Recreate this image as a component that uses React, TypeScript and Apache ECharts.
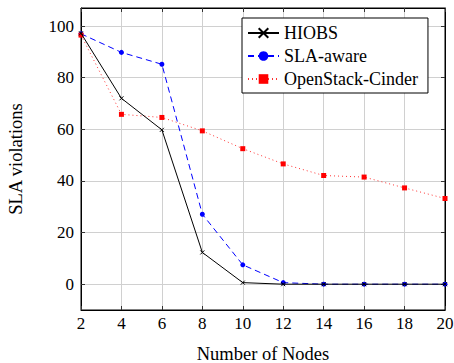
import React, { useEffect, useRef } from "react";
import * as echarts from "echarts";

const nodes = [2, 4, 6, 8, 10, 12, 14, 16, 18, 20];
const hiobs = [97.2, 72, 59.8, 12.3, 0.6, 0, 0, 0, 0, 0];
const slaAware = [97, 89.8, 85.2, 27.1, 7.5, 0.6, 0, 0, 0, 0];
const openstack = [96.5, 65.8, 64.6, 59.4, 52.5, 46.6, 42.1, 41.5, 37.3, 33.2];
const yTicks = [0, 20, 40, 60, 80, 100];

const FONT = "Liberation Serif";

export default function App() {
  const ref = useRef<HTMLDivElement>(null);
  useEffect(() => {
    if (!ref.current) return;
    const chart = echarts.init(ref.current, null, { renderer: "svg" });
    const pair = (ys: number[]) => nodes.map((x, i) => [x, ys[i]]);
    const tickStyle = { show: true, inside: true, length: 4, lineStyle: { color: "#333", width: 1 } };
    chart.setOption({
      animation: false,
      textStyle: { fontFamily: FONT },
      grid: {
        left: 81, right: 9, top: 8, bottom: 53,
        outerBoundsMode: "none", containLabel: false,
        show: true, borderColor: "#000", borderWidth: 1, backgroundColor: "transparent",
      },
      legend: {
        left: 242, top: 18, orient: "vertical",
        backgroundColor: "#fff", borderColor: "#000", borderWidth: 1,
        padding: [6, 10, 5, 5], itemGap: 5, itemWidth: 31, itemHeight: 12,
        textStyle: { fontFamily: FONT, fontSize: 18, color: "#000", lineHeight: 18 },
        data: ["HIOBS", "SLA-aware", "OpenStack-Cinder"],
      },
      xAxis: [
        {
          type: "value", min: 2, max: 20, interval: 2,
          name: "Number of Nodes", nameLocation: "middle", nameGap: 34,
          nameTextStyle: { fontFamily: FONT, fontSize: 18.5, color: "#000" },
          axisLine: { show: true, onZero: false, lineStyle: { color: "#000" } },
          axisTick: tickStyle,
          axisLabel: { fontFamily: FONT, fontSize: 17, color: "#000", margin: 5 },
          splitLine: { show: true, lineStyle: { color: "#d0d0d0", width: 1 } },
        },
        {
          type: "value", min: 2, max: 20, interval: 2, position: "top",
          axisLine: { show: true, onZero: false, lineStyle: { color: "#000" } },
          axisTick: tickStyle, axisLabel: { show: false }, splitLine: { show: false },
        },
      ],
      yAxis: [
        {
          type: "value", min: -10, max: 107,
          name: "SLA violations", nameLocation: "middle", nameGap: 56,
          nameTextStyle: { fontFamily: FONT, fontSize: 18.5, color: "#000" },
          axisLine: { show: true, onZero: false, lineStyle: { color: "#000" } },
          axisTick: { ...tickStyle, customValues: yTicks },
          axisLabel: {
            fontFamily: FONT, fontSize: 17, color: "#000", margin: 7, customValues: yTicks,
            formatter: (v: number) => (v % 20 === 0 ? String(v) : ""),
          },
          splitLine: { show: true, lineStyle: { color: "#d0d0d0", width: 1 } },
        },
        {
          type: "value", min: -10, max: 107, position: "right",
          axisLine: { show: true, onZero: false, lineStyle: { color: "#000" } },
          axisTick: { ...tickStyle, customValues: yTicks },
          axisLabel: { show: false, customValues: yTicks }, splitLine: { show: false },
        },
      ],
      series: [
        {
          name: "HIOBS", type: "line", data: pair(hiobs),
          symbol: "path://M0,0L10,10M10,0L0,10", symbolSize: 4,
          itemStyle: { color: "#000", borderColor: "#000", borderWidth: 1 },
          lineStyle: { color: "#000", width: 1 }, z: 3,
        },
        {
          name: "SLA-aware", type: "line", data: pair(slaAware),
          symbol: "circle", symbolSize: 5,
          itemStyle: { color: "#0000ff" },
          lineStyle: { color: "#0000ff", width: 1, type: [6, 4] }, z: 2,
        },
        {
          name: "OpenStack-Cinder", type: "line", data: pair(openstack),
          symbol: "rect", symbolSize: 5,
          itemStyle: { color: "#ff0000" },
          lineStyle: { color: "#ff3333", width: 1, type: [1, 3] }, z: 2,
        },
      ],
    });
    return () => chart.dispose();
  }, []);
  return <div ref={ref} style={{ width: 454, height: 363, position: "absolute", left: 0, top: 0 }} />;
}
